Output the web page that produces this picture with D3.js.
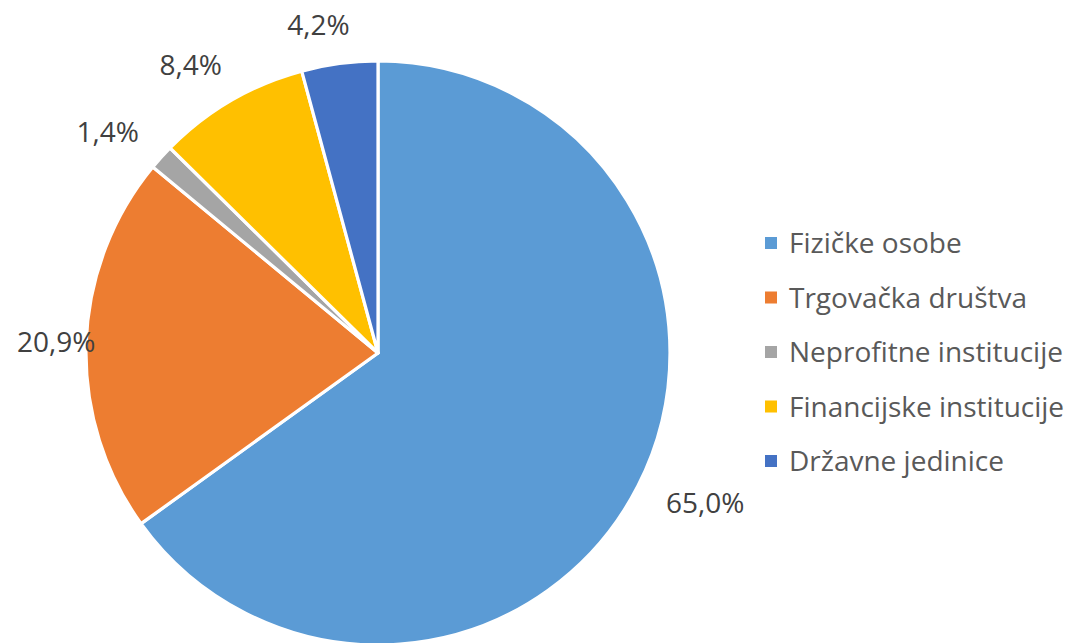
<!DOCTYPE html>
<html>
<head>
<meta charset="utf-8">
<script src="https://cdn.jsdelivr.net/npm/d3@7"></script>
<style>
  body { margin: 0; background: #fff; }
  text { font-family: "Open Sans", "Noto Sans", sans-serif; }
</style>
</head>
<body>
<script>
// data
var categories = ["Fizičke osobe", "Trgovačka društva", "Neprofitne institucije", "Financijske institucije", "Državne jedinice"];
var shares = [65.0, 20.9, 1.4, 8.4, 4.2];
var labels = ["65,0%", "20,9%", "1,4%", "8,4%", "4,2%"];
var palette = ["#5b9bd5", "#ed7d31", "#a5a5a5", "#ffc000", "#4472c4"];

var width = 1071, height = 643;
var cx = 378, cy = 353, radius = 292;

var svg = d3.select("body")
  .append("svg")
  .attr("width", width)
  .attr("height", height);

var pie = d3.pie().sort(null).value(d => d);
var arcs = pie(shares);

var arc = d3.arc().innerRadius(0).outerRadius(radius);

var g = svg.append("g")
  .attr("transform", `translate(${cx},${cy})`);

g.selectAll("path")
  .data(arcs)
  .enter()
  .append("path")
  .attr("d", arc)
  .style("fill", (d, i) => palette[i])
  .style("stroke", "#fff")
  .style("stroke-width", 3.2)
  .style("stroke-linejoin", "round");

/* labels, outside end: push the box just past the rim */
var labelBase = 320;
var labelTurn = -2.7 * Math.PI / 180;
g.selectAll("text.lbl")
  .data(arcs)
  .enter()
  .append("text")
  .attr("class", "lbl")
  .text((d, i) => labels[i])
  .style("font-size", "28px")
  .style("fill", "#404040")
  .attr("text-anchor", "middle")
  .attr("dominant-baseline", "central")
  .each(function(d) {
    var bb = this.getBBox();
    var mid = (d.startAngle + d.endAngle) / 2;
    var a = mid + labelTurn;
    var s = Math.sin(a), c = Math.cos(a);
    var r = labelBase + Math.abs(s) * bb.width / 2 + Math.abs(c) * bb.height / 2 * 0.45;
    var x = r * s, y = -r * c;
    // keep inside chart area (slide sideways only)
    var minX = 17 - cx + bb.width / 2;
    if (x < minX) { x = minX; y = -r * Math.cos(mid); }
    d3.select(this).attr("x", x).attr("y", y);
  });

/* legend */
var legend = svg.append("g")
  .selectAll("g")
  .data(categories)
  .enter()
  .append("g")
  .attr("transform", (d, i) => `translate(765,${243 + i * 54.5})`);

legend.append("rect")
  .attr("x", 0)
  .attr("y", -6)
  .attr("width", 12)
  .attr("height", 12)
  .style("fill", (d, i) => palette[i]);

legend.append("text")
  .attr("x", 24)
  .attr("y", 10)
  .style("font-size", "28px")
  .style("fill", "#595959")
  .text(d => d);
</script>
</body>
</html>
